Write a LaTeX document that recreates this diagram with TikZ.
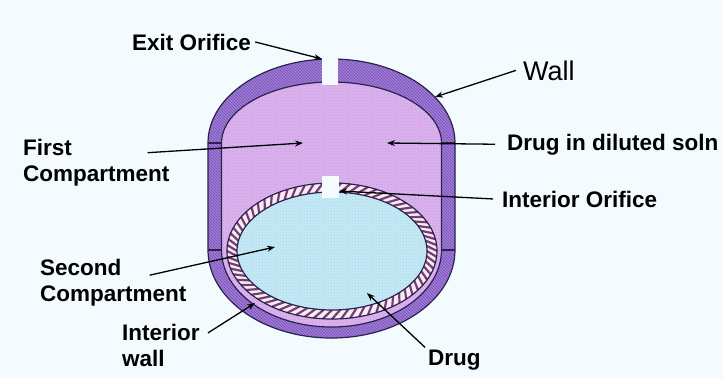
\documentclass[tikz,border=0pt]{standalone}
\usepackage{fontspec}
\setmainfont{Liberation Sans}
\usepackage{xcolor}
\usetikzlibrary{arrows.meta, patterns, positioning}

\definecolor{bg}{HTML}{F4FBFE}
\definecolor{wallc}{HTML}{A07BD6}
\definecolor{hatchc}{HTML}{7450B4}
\definecolor{firstc}{HTML}{DCB3EE}
\definecolor{firstdot}{HTML}{C597DF}
\definecolor{secondc}{HTML}{C6EAF6}
\definecolor{seconddot}{HTML}{A3D4E8}
\definecolor{ropec}{HTML}{F9ECF6}
\definecolor{ropestr}{HTML}{74406F}
\definecolor{edgec}{HTML}{2B2250}

\tikzset{
    tag/.style={font=\bfseries\fontsize{22.5}{26}\selectfont, inner sep=0pt, align=left},
    bigtag/.style={font=\fontsize{27}{30}\selectfont, inner sep=0pt},
    ptr/.style={-{Stealth[length=8pt, width=6pt]}, line width=1.3pt, black},
    outline/.style={draw=edgec, line width=1.2pt}
}

\begin{document}
\begin{tikzpicture}[x=1pt, y=-1pt]
        \fill[bg] (0,0) rectangle (723,378);
        \useasboundingbox (0,0) rectangle (723,378);

        % outer wall
        \path[outline, preaction={fill=wallc}, pattern=north west lines, pattern color=hatchc]
            (208,143) arc[start angle=180, end angle=360, x radius=123.5, y radius=84]
            -- (455,250) arc[start angle=0, end angle=180, x radius=123.5, y radius=88]
            -- cycle;
        % first compartment
        \path[outline, preaction={fill=firstc}, pattern=crosshatch dots, pattern color=firstdot]
            (221.5,143) arc[start angle=180, end angle=360, x radius=110, y radius=61]
            -- (441.5,250) arc[start angle=0, end angle=180, x radius=110, y radius=77]
            -- cycle;
        \draw[outline] (208,143) -- (221.5,143) (441.5,143) -- (455,143)
                       (208,250) -- (221.5,250) (441.5,250) -- (455,250);

        % interior wall and second compartment
        \begin{scope}[shift={(332,251)}]
            \fill[ropec, even odd rule] (0,0) ellipse[x radius=105, y radius=68]
                                        (0,0) ellipse[x radius=95, y radius=59];
            \foreach \a in {0,5,...,355}
                \draw[ropestr, line width=2.2pt] (\a:95 and 59) -- ({\a+5}:105 and 68);
            \path[preaction={fill=secondc}, pattern=crosshatch dots, pattern color=seconddot]
                (0,0) ellipse[x radius=95, y radius=59];
            \draw[outline] (0,0) ellipse[x radius=105, y radius=68]
                           (0,0) ellipse[x radius=95, y radius=59];
        \end{scope}

        % orifices
        \fill[bg] (322,56) rectangle (338,85);
        \fill[bg] (322,176) rectangle (339,198);

        \coordinate (exittip)  at (322,59);
        \coordinate (walltip)  at (435,97);
        \coordinate (firsttip) at (303,143);
        \coordinate (solntip)  at (387,143);
        \coordinate (intortip) at (339,191);
        \coordinate (sectip)   at (275,247);
        \coordinate (iwtip)    at (255,303);
        \coordinate (drugtip)  at (367,293);

        \node[tag, anchor=base west]  (exitor)     at (132,50)  {Exit Orifice};
        \node[bigtag, anchor=base west] (walltag)  at (523,80)  {Wall};
        \node[tag, anchor=north west] (firstcomp)  at (23,139)  {First\\Compartment};
        \node[tag, anchor=base west]  (drugsoln)   at (507,150) {Drug in diluted soln};
        \node[tag, anchor=base west]  (intor)      at (502,207) {Interior Orifice};
        \node[tag, anchor=north west] (secondcomp) at (40,259)  {Second\\Compartment};
        \node[tag, anchor=north west] (intwall)    at (122,324) {Interior\\wall};
        \node[tag, anchor=base west]  (drug)       at (428,365) {Drug};

        \draw[ptr] ([xshift=4pt]exitor.east) -- (exittip);
        \draw[ptr] ([xshift=-7pt]walltag.west) -- (walltip);
        \draw[ptr] ([xshift=-22pt, yshift=10pt]firstcomp.east) -- (firsttip);
        \draw[ptr] ([xshift=-12pt]drugsoln.west) -- (solntip);
        \draw[ptr] ([xshift=-9pt]intor.west) -- (intortip);
        \draw[ptr] ([xshift=-37pt, yshift=7.5pt]secondcomp.east) -- (sectip);
        \draw[ptr] ([xshift=8pt, yshift=12.5pt]intwall.east) -- (iwtip);
        \draw[ptr] ([xshift=-3pt, yshift=2pt]drug.north west) -- (drugtip);
\end{tikzpicture}
\end{document}
